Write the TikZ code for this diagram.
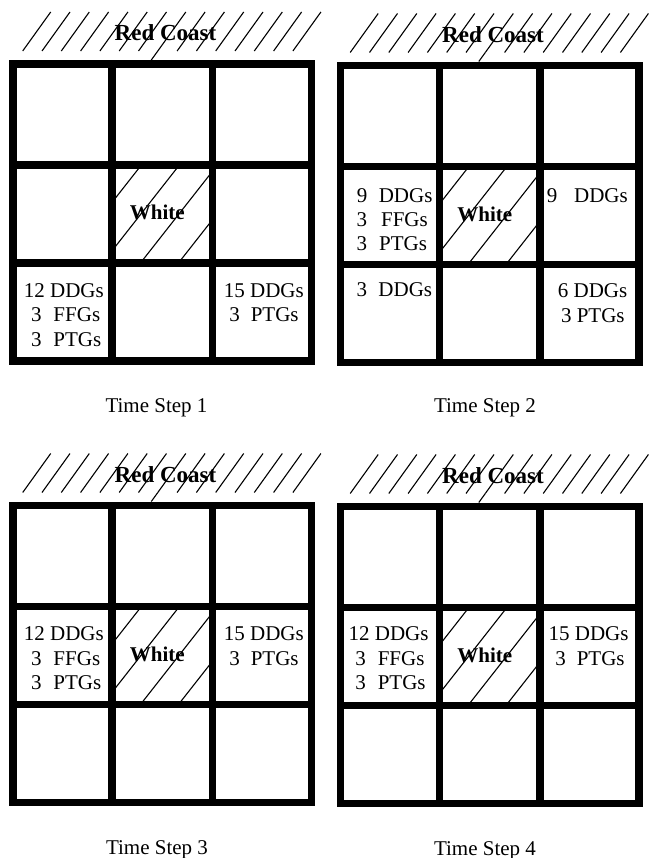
\documentclass[tikz,border=0pt]{standalone}
\usepackage{fontspec}
\setmainfont{Liberation Serif}
\tikzset{
  gridline/.style={line width=7.6pt},
  hatchline/.style={line width=1.1pt},
  coastlbl/.style={font=\fontsize{23}{27}\selectfont\bfseries, inner sep=0pt, anchor=base},
  whitelbl/.style={font=\fontsize{21}{25}\selectfont\bfseries, inner sep=0pt, anchor=base},
  steplbl/.style={font=\fontsize{21}{25}\selectfont, inner sep=0pt, anchor=base},
  celltxt/.style={font=\fontsize{21}{25}\selectfont, inner sep=0pt, anchor=base west},
}
\newcommand{\drawpanel}[3]{%
\begin{scope}[shift={(#1,#2)}]
  \foreach \k in {0,...,14} {\draw[hatchline] ({9.7+19.3*\k},-13) -- ++(28,-39);}
  \draw[hatchline] (138.3,-4) -- (144.8,-13);
  \begin{scope}
    \clip (99,101) rectangle (199.5,199);
    \foreach \c in {-24,14,52,90} {\draw[hatchline] ({149.25+\c+0.785*60},45) -- ({149.25+\c-0.785*160},265);}
  \end{scope}
  \draw[gridline] (0,0) rectangle (298.5,297);
  \draw[gridline] (99,0) -- (99,297) (199.5,0) -- (199.5,297) (0,101) -- (298.5,101) (0,199) -- (298.5,199);
  \node[coastlbl] (coast#3) at (152.5,-23) {Red Coast};
  \node[whitelbl] (white#3) at (144.3,156) {White};
\end{scope}}
\begin{document}
\begin{tikzpicture}[x=1pt,y=-1pt]
\useasboundingbox (0,0) rectangle (649,858);
\drawpanel{13}{64}{A}
\drawpanel{340.5}{65.5}{B}
\drawpanel{13}{505.5}{C}
\drawpanel{340.5}{506.5}{D}
% panel 1
\node[celltxt] (a1) at (23.7,297.7) {12 DDGs};
\node[celltxt] (a2) at (30.8,321.7) {3\hspace{12pt}FFGs};
\node[celltxt] (a3) at (30.8,346.7) {3\hspace{12pt}PTGs};
\node[celltxt] (a4) at (223.7,297.7) {15 DDGs};
\node[celltxt] (a5) at (229.1,321.7) {3\hspace{11pt}PTGs};
\node[steplbl] (stepA) at (156.5,412) {Time Step 1};
% panel 2
\node[celltxt] (b1) at (356.7,202.7) {9\hspace{11.4pt}DDGs};
\node[celltxt] (b2) at (356.4,226.7) {3\hspace{14pt}FFGs};
\node[celltxt] (b3) at (356.4,250.7) {3\hspace{12pt}PTGs};
\node[celltxt] (b4) at (546.7,202.7) {9\hspace{16.7pt}DDGs};
\node[celltxt] (b5) at (356.4,296.7) {3\hspace{11.4pt}DDGs};
\node[celltxt] (b6) at (557.7,297.3) {6 DDGs};
\node[celltxt] (b7) at (560.8,322.7) {3 PTGs};
\node[steplbl] (stepB) at (485,412) {Time Step 2};
% panel 3
\node[celltxt] (c1) at (23.7,640) {12 DDGs};
\node[celltxt] (c2) at (30.8,665) {3\hspace{12pt}FFGs};
\node[celltxt] (c3) at (30.8,689.3) {3\hspace{12pt}PTGs};
\node[celltxt] (c4) at (223.7,640) {15 DDGs};
\node[celltxt] (c5) at (229.1,665) {3\hspace{11pt}PTGs};
\node[steplbl] (stepC) at (157,854) {Time Step 3};
% panel 4
\node[celltxt] (d1) at (348.4,640) {12 DDGs};
\node[celltxt] (d2) at (355.1,665) {3\hspace{12pt}FFGs};
\node[celltxt] (d3) at (355.1,689.3) {3\hspace{12pt}PTGs};
\node[celltxt] (d4) at (548.4,640) {15 DDGs};
\node[celltxt] (d5) at (555.1,665) {3\hspace{11pt}PTGs};
\node[steplbl] (stepD) at (485,855) {Time Step 4};
\end{tikzpicture}
\end{document}
